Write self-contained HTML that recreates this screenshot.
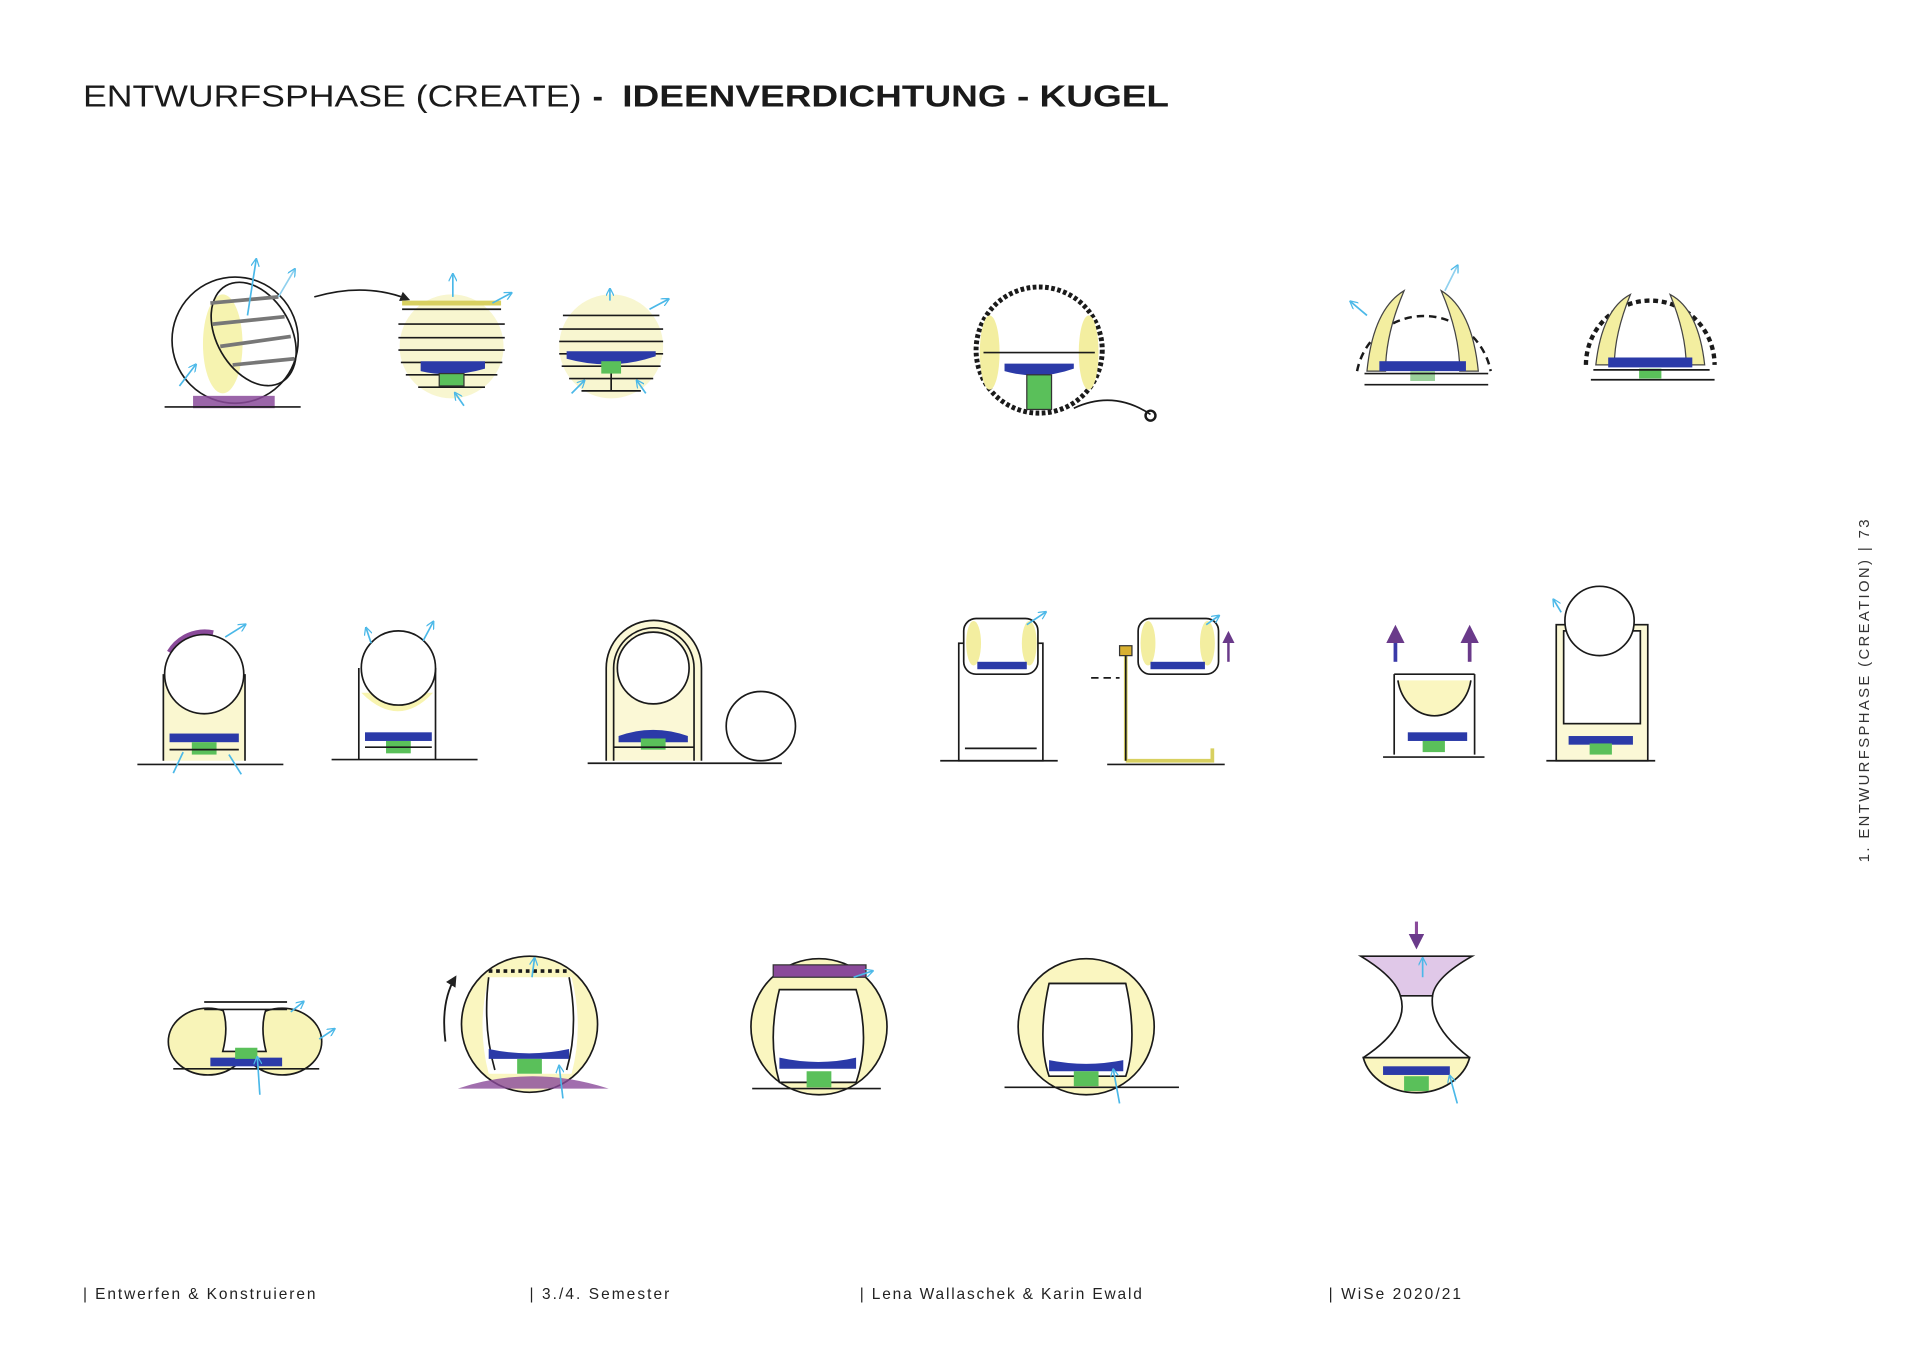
<!DOCTYPE html>
<html><head><meta charset="utf-8"><style>
html,body{margin:0;padding:0;background:#fff;}
svg{display:block;}
text{font-family:"Liberation Sans",sans-serif;}
</style></head><body>
<svg width="1920" height="1357" viewBox="0 0 1552 1097" xmlns="http://www.w3.org/2000/svg">
<defs>
<marker id="ab" viewBox="0 0 10 10" refX="8" refY="5" markerWidth="5" markerHeight="5" orient="auto"><path d="M0,0 L10,5 L0,10" fill="none" stroke="#4ab8e8" stroke-width="1.5"/></marker>
<marker id="ak" viewBox="0 0 10 10" refX="8" refY="5" markerWidth="6" markerHeight="6" orient="auto"><path d="M0,0 L10,5 L0,10 z" fill="#222"/></marker>
<marker id="ap" viewBox="0 0 10 10" refX="8" refY="5" markerWidth="5" markerHeight="5" orient="auto"><path d="M0,0 L10,5 L0,10 z" fill="#6a3a8a"/></marker>
</defs>
<rect width="1552" height="1097" fill="#fff"/>
<text x="67" y="86" font-size="25" textLength="403" lengthAdjust="spacingAndGlyphs" fill="#1a1a1a">ENTWURFSPHASE (CREATE)</text>
<text x="479" y="86" font-size="25" font-weight="bold" fill="#1a1a1a">-</text>
<text x="503" y="86" font-size="25" font-weight="bold" textLength="442" lengthAdjust="spacingAndGlyphs" fill="#1a1a1a">IDEENVERDICHTUNG - KUGEL</text>

<g font-size="12.5" fill="#222">
<text x="67" y="1050" textLength="188" lengthAdjust="spacing">| Entwerfen &amp; Konstruieren</text>
<text x="428" y="1050" textLength="113" lengthAdjust="spacing">| 3./4. Semester</text>
<text x="695" y="1050" textLength="228" lengthAdjust="spacing">| Lena Wallaschek &amp; Karin Ewald</text>
<text x="1074" y="1050" textLength="107" lengthAdjust="spacing">| WiSe 2020/21</text>
</g>
<text transform="translate(1511,697) rotate(-90)" font-size="12" fill="#333" textLength="277" lengthAdjust="spacing">1. ENTWURFSPHASE (CREATION)   |   73</text>

<g fill="none" stroke="#1a1a1a" stroke-width="1.35">
<!-- ROW 1 -->
<ellipse cx="180" cy="278" rx="16" ry="40" fill="#f6f3b0" stroke="none"/>
<circle cx="190" cy="275" r="51"/>
<ellipse cx="205" cy="270" rx="30" ry="45" transform="rotate(-30 205 270)"/>
<path d="M170,245 L225,240 M172,262 L230,256 M178,280 L235,272 M188,295 L238,290" stroke="#777" stroke-width="3"/>
<rect x="156" y="320" width="66" height="10" fill="#8a4a9a" stroke="none" opacity=".85"/>
<line x1="133" y1="329" x2="243" y2="329"/>
<path d="M200,255 L207,210" stroke="#4ab8e8" marker-end="url(#ab)"/>
<path d="M225,240 L238,218" stroke="#8fd0ee" marker-end="url(#ab)"/>
<path d="M145,312 L158,295" stroke="#4ab8e8" marker-end="url(#ab)"/>
<path d="M254,240 Q295,228 330,242" marker-end="url(#ak)"/>

<circle cx="365" cy="280" r="42" fill="#f8f6d0" stroke="none"/>
<path d="M325,250 L405,250 M322,262 L408,262 M322,273 L408,273 M322,283 L408,283 M324,293 L406,293 M328,303 L402,303 M338,313 L392,313" />
<path d="M325,245 L405,245" stroke="#d8d060" stroke-width="4"/>
<path d="M340,300 Q365,306 392,298 L392,292 L340,292Z" fill="#2b3aa8" stroke="none"/>
<rect x="355" y="302" width="20" height="10" fill="#5ac05a" stroke="#333" stroke-width="1"/>
<path d="M366,240 L366,222" stroke="#4ab8e8" marker-end="url(#ab)"/>
<path d="M398,245 L413,237" stroke="#4ab8e8" marker-end="url(#ab)"/>
<path d="M375,328 L368,318" stroke="#4ab8e8" marker-end="url(#ab)"/>

<circle cx="494" cy="280" r="42" fill="#f8f6d0" stroke="none"/>
<path d="M455,255 L533,255 M452,266 L536,266 M452,276 L536,276 M452,286 L536,286 M454,296 L534,296 M460,306 L528,306 M470,316 L518,316 M494,290 L494,316"/>
<path d="M458,290 Q494,300 530,288 L530,284 L458,284Z" fill="#2b3aa8" stroke="none"/>
<rect x="486" y="292" width="16" height="10" fill="#5ac05a" stroke="none"/>
<path d="M493,243 L493,234" stroke="#4ab8e8" marker-end="url(#ab)"/>
<path d="M525,250 L540,242" stroke="#4ab8e8" marker-end="url(#ab)"/>
<path d="M462,318 L472,308" stroke="#4ab8e8" marker-end="url(#ab)"/>
<path d="M522,318 L515,308" stroke="#4ab8e8" marker-end="url(#ab)"/>

<circle cx="840" cy="283" r="51" stroke-width="4" stroke-dasharray="3 2"/>
<ellipse cx="800" cy="285" rx="8" ry="30" fill="#f3eea0" stroke="none"/>
<ellipse cx="880" cy="285" rx="8" ry="30" fill="#f3eea0" stroke="none"/>
<line x1="795" y1="285" x2="885" y2="285"/>
<path d="M812,300 Q840,308 868,298 L868,294 L812,294Z" fill="#2b3aa8" stroke="none"/>
<rect x="830" y="303" width="20" height="28" fill="#5ac05a" stroke="#333" stroke-width="1"/>
<path d="M868,330 Q900,315 930,335"/>
<circle cx="930" cy="336" r="4" stroke-width="2"/>

<path d="M1097,300 A55,55 0 0 1 1205,300" stroke-dasharray="6 4" stroke-width="2"/>
<path d="M1105,300 Q1110,250 1135,235 Q1120,270 1120,300Z" fill="#f3eea0" stroke="#444" stroke-width="1"/>
<path d="M1195,300 Q1190,250 1165,235 Q1180,270 1180,300Z" fill="#f3eea0" stroke="#444" stroke-width="1"/>
<rect x="1115" y="292" width="70" height="8" fill="#2b3aa8" stroke="none"/>
<rect x="1140" y="300" width="20" height="8" fill="#9ad09a" stroke="none"/>
<line x1="1103" y1="302" x2="1203" y2="302"/><line x1="1103" y1="311" x2="1203" y2="311"/>
<path d="M1105,255 L1092,244" stroke="#4ab8e8" marker-end="url(#ab)"/>
<path d="M1168,235 L1178,215" stroke="#8fd0ee" marker-end="url(#ab)"/>

<path d="M1282,295 A52,52 0 0 1 1386,295" stroke-dasharray="4 3" stroke-width="3.5"/>
<path d="M1290,295 Q1295,250 1318,238 Q1305,270 1305,295Z" fill="#f3eea0" stroke="#444" stroke-width="1"/>
<path d="M1378,295 Q1373,250 1350,238 Q1363,270 1363,295Z" fill="#f3eea0" stroke="#444" stroke-width="1"/>
<rect x="1300" y="289" width="68" height="8" fill="#2b3aa8" stroke="none"/>
<rect x="1325" y="298" width="18" height="8" fill="#5ac05a" stroke="none"/>
<line x1="1288" y1="299" x2="1382" y2="299"/><line x1="1286" y1="307" x2="1386" y2="307"/>

<!-- ROW 2 -->
<rect x="132" y="545" width="66" height="70" fill="#faf7d0" stroke="none"/>
<path d="M132,615 L132,545 M198,545 L198,615"/>
<path d="M138,528 A32,32 0 0 1 172,513" stroke="#8a4a9a" stroke-width="7"/>
<circle cx="165" cy="545" r="32" fill="#fff"/>
<rect x="137" y="593" width="56" height="7" fill="#2b3aa8" stroke="none"/>
<rect x="155" y="600" width="20" height="10" fill="#5ac05a" stroke="none"/>
<line x1="137" y1="606" x2="193" y2="606"/>
<line x1="111" y1="618" x2="229" y2="618"/>
<path d="M182,515 L198,505" stroke="#4ab8e8" marker-end="url(#ab)"/>
<path d="M140,625 L148,608" stroke="#4ab8e8"/><path d="M195,626 L185,610" stroke="#4ab8e8"/>

<path d="M290,540 L290,614 M352,540 L352,614"/>
<path d="M292,560 Q322,590 350,560" fill="#f8f4b0" stroke="none"/>
<circle cx="322" cy="540" r="30" fill="#fff"/>
<rect x="295" y="592" width="54" height="7" fill="#2b3aa8" stroke="none"/>
<rect x="312" y="599" width="20" height="10" fill="#5ac05a" stroke="none"/>
<line x1="295" y1="604" x2="349" y2="604"/>
<line x1="268" y1="614" x2="386" y2="614"/>
<path d="M300,520 L296,508" stroke="#4ab8e8" marker-end="url(#ab)"/>
<path d="M342,518 L350,503" stroke="#4ab8e8" marker-end="url(#ab)"/>

<path d="M490,615 L490,540 A38,38 0 0 1 567,540 L567,615" fill="#fbf8d6"/>
<path d="M496,615 L496,540 A32,32 0 0 1 561,540 L561,615" fill="none"/>
<circle cx="528" cy="540" r="29" fill="#fff"/>
<path d="M500,595 Q528,585 556,595 L556,600 L500,600Z" fill="#2b3aa8" stroke="none"/>
<rect x="518" y="597" width="20" height="9" fill="#5ac05a" stroke="none"/>
<line x1="496" y1="604" x2="561" y2="604"/>
<line x1="475" y1="617" x2="632" y2="617"/>
<circle cx="615" cy="587" r="28"/>

<rect x="775" y="520" width="68" height="95"/>
<rect x="779" y="500" width="60" height="45" rx="10" fill="#fff"/>
<ellipse cx="787" cy="520" rx="6" ry="18" fill="#f3eea0" stroke="none"/>
<ellipse cx="832" cy="520" rx="6" ry="18" fill="#f3eea0" stroke="none"/>
<rect x="790" y="535" width="40" height="6" fill="#2b3aa8" stroke="none"/>
<line x1="760" y1="615" x2="855" y2="615"/>
<line x1="780" y1="605" x2="838" y2="605"/>
<path d="M830,505 L845,495" stroke="#4ab8e8" marker-end="url(#ab)"/>

<path d="M910,615 L910,525 M910,615 L980,615 L980,605" stroke="#d8d060" stroke-width="3"/>
<path d="M910,615 L910,525"/>
<rect x="905" y="522" width="10" height="8" fill="#d8b030" stroke="#333" stroke-width="1"/>
<rect x="920" y="500" width="65" height="45" rx="10" fill="#fff"/>
<ellipse cx="928" cy="520" rx="6" ry="18" fill="#f3eea0" stroke="none"/>
<ellipse cx="976" cy="520" rx="6" ry="18" fill="#f3eea0" stroke="none"/>
<rect x="930" y="535" width="44" height="6" fill="#2b3aa8" stroke="none"/>
<line x1="895" y1="618" x2="990" y2="618"/>
<path d="M882,548 L905,548" stroke-dasharray="6 4"/>
<path d="M993,535 L993,512" stroke="#6a3a8a" stroke-width="2" marker-end="url(#ap)"/>
<path d="M975,505 L985,498" stroke="#4ab8e8" marker-end="url(#ab)"/>

<path d="M1127,545 L1127,610 M1192,545 L1192,610 M1127,545 L1192,545"/>
<path d="M1130,550 A30,35 0 0 0 1189,550" fill="#faf6c0"/>
<rect x="1138" y="592" width="48" height="7" fill="#2b3aa8" stroke="none"/>
<rect x="1150" y="599" width="18" height="9" fill="#5ac05a" stroke="none"/>
<line x1="1118" y1="612" x2="1200" y2="612"/>
<path d="M1128,535 L1128,508" stroke="#3a3aa8" stroke-width="3" marker-end="url(#ap)"/>
<path d="M1188,535 L1188,508" stroke="#6a3a8a" stroke-width="3" marker-end="url(#ap)"/>

<rect x="1258" y="505" width="74" height="110" fill="#fbf8d6"/>
<rect x="1264" y="510" width="62" height="75" fill="#fff"/>
<circle cx="1293" cy="502" r="28" fill="#fff"/>
<rect x="1268" y="595" width="52" height="7" fill="#2b3aa8" stroke="none"/>
<rect x="1285" y="601" width="18" height="9" fill="#5ac05a" stroke="none"/>
<line x1="1250" y1="615" x2="1338" y2="615"/>
<path d="M1262,495 L1256,485" stroke="#4ab8e8" marker-end="url(#ab)"/>

<!-- ROW 3 -->
<ellipse cx="168" cy="842" rx="32" ry="27" fill="#f8f4b8"/>
<ellipse cx="228" cy="842" rx="32" ry="27" fill="#f8f4b8"/>
<path d="M165,810 L232,810 M165,816 L232,816 M180,816 Q185,830 180,850 L215,850 Q210,830 215,816" fill="#fff"/>
<rect x="170" y="855" width="58" height="7" fill="#2b3aa8" stroke="none"/>
<rect x="190" y="847" width="18" height="9" fill="#5ac05a" stroke="none"/>
<line x1="140" y1="864" x2="258" y2="864"/>
<path d="M210,885 L208,855" stroke="#4ab8e8" marker-end="url(#ab)"/>
<path d="M235,818 L245,810" stroke="#4ab8e8" marker-end="url(#ab)"/>
<path d="M258,840 L270,832" stroke="#4ab8e8" marker-end="url(#ab)"/>

<circle cx="428" cy="828" r="55" fill="#faf6c0"/>
<path d="M395,785 L460,785" stroke-dasharray="3 3" stroke-width="3"/>
<path d="M395,790 Q385,830 395,868 L462,868 Q472,830 462,790Z" fill="#fff" stroke="none"/>
<path d="M395,790 Q390,830 400,865 M460,790 Q468,830 458,865"/>
<path d="M395,848 Q428,855 460,848 L460,856 L395,856Z" fill="#2b3aa8" stroke="none"/>
<rect x="418" y="856" width="20" height="12" fill="#5ac05a" stroke="none"/>
<path d="M370,880 Q430,860 492,880Z" fill="#8a4a9a" stroke="none" opacity=".8"/>
<path d="M360,842 Q356,810 368,790" stroke-width="1.5" marker-end="url(#ak)"/>
<path d="M430,790 L432,775" stroke="#4ab8e8" marker-end="url(#ab)"/>
<path d="M455,888 L452,862" stroke="#4ab8e8" marker-end="url(#ab)"/>

<circle cx="662" cy="830" r="55" fill="#faf6c0"/>
<path d="M630,800 Q620,840 630,875 L692,875 Q704,840 692,800Z" fill="#fff"/>
<rect x="625" y="780" width="75" height="10" fill="#8a4a9a" stroke="#333" stroke-width="1"/>
<path d="M630,855 Q662,862 692,855 L692,864 L630,864Z" fill="#2b3aa8" stroke="none"/>
<rect x="652" y="866" width="20" height="13" fill="#5ac05a" stroke="none"/>
<line x1="608" y1="880" x2="712" y2="880"/>
<path d="M690,790 L705,785" stroke="#4ab8e8" marker-end="url(#ab)"/>

<circle cx="878" cy="830" r="55" fill="#faf6c0"/>
<path d="M848,795 Q838,840 848,870 L910,870 Q920,840 910,795Z" fill="#fff"/>
<line x1="848" y1="795" x2="910" y2="795"/>
<path d="M848,857 Q878,863 908,857 L908,866 L848,866Z" fill="#2b3aa8" stroke="none"/>
<rect x="868" y="866" width="20" height="12" fill="#5ac05a" stroke="none"/>
<line x1="812" y1="879" x2="953" y2="879"/>
<path d="M905,892 L900,865" stroke="#4ab8e8" marker-end="url(#ab)"/>

<path d="M1100,773 L1190,773 Q1160,790 1158,805 L1132,805 Q1128,790 1100,773Z" fill="#e0c8e8"/>
<path d="M1132,805 Q1140,830 1102,855 M1158,805 Q1155,830 1188,855"/>
<path d="M1102,855 A44,36 0 0 0 1188,855Z" fill="#faf6c0"/>
<rect x="1118" y="862" width="54" height="7" fill="#2b3aa8" stroke="none"/>
<rect x="1135" y="870" width="20" height="12" fill="#5ac05a" stroke="none"/>
<path d="M1145,745 L1145,765" stroke="#8a4a9a" stroke-width="2.5" marker-end="url(#ap)"/>
<path d="M1150,790 L1150,775" stroke="#4ab8e8" marker-end="url(#ab)"/>
<path d="M1178,892 L1172,870" stroke="#4ab8e8" marker-end="url(#ab)"/>
</g>
</svg>
</body></html>
